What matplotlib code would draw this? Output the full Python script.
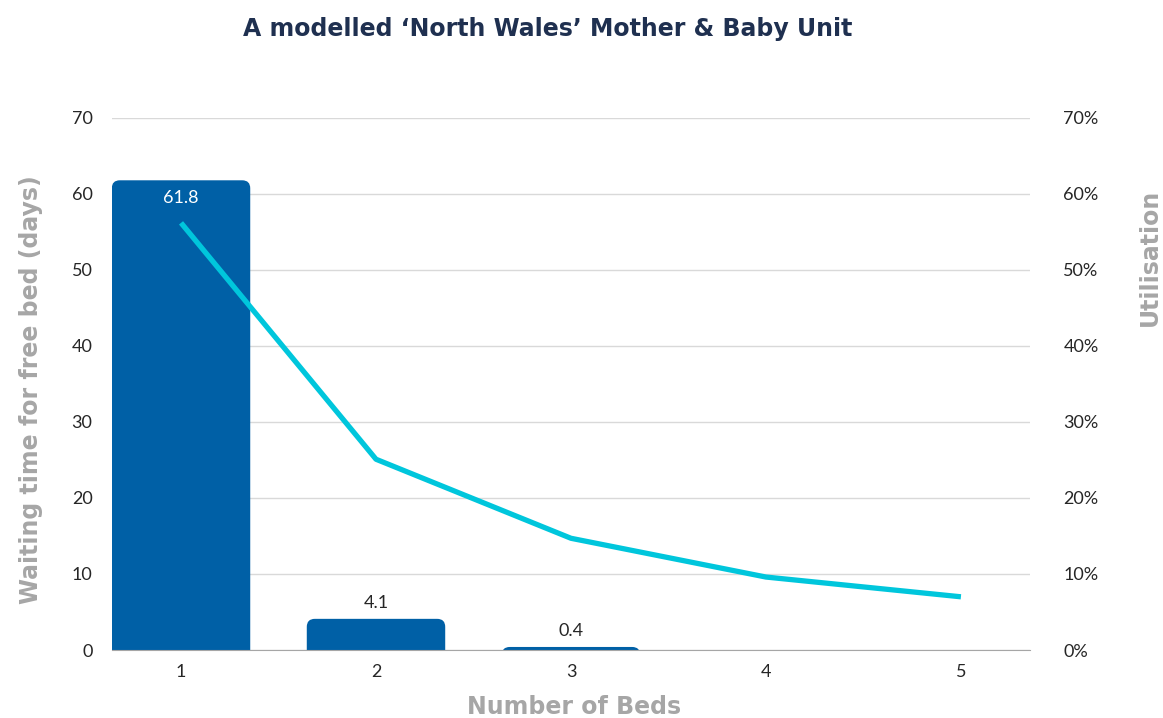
import matplotlib.pyplot as plt
from matplotlib.patches import FancyBboxPatch
from matplotlib.ticker import FuncFormatter

# Data
beds = [1, 2, 3, 4, 5]
waiting_days = [61.8, 4.1, 0.4, 0, 0]
utilisation = [0.562, 0.251, 0.147, 0.096, 0.070]
bar_labels = ["61.8", "4.1", "0.4", "", ""]

BAR_COLOUR = "#0060A6"
LINE_COLOUR = "#00C6DC"
LABEL_GREY = "#A6A6A6"
TEXT_COLOUR = "#262626"
HEAD_FONT = ["DejaVu Sans"]

plt.rcParams["font.family"] = ["Lato", "DejaVu Sans"]

fig = plt.figure(figsize=(11.63, 7.18), dpi=100)
ax = fig.add_axes([0.0963, 0.0947, 0.7893, 0.7410])
ax2 = ax.twinx()

# Bars drawn invisibly, then replaced by round-topped patches of the same size
bars = ax.bar(beds, waiting_days, width=0.71, color=BAR_COLOUR, alpha=0, zorder=2)
x_per_px = 4.708 / 918
y_per_px = 70 / 532
radius_px = 8
for rect in bars:
    h = rect.get_height()
    if h <= 0:
        continue
    ext = 3.0
    patch = FancyBboxPatch(
        (rect.get_x(), -ext),
        rect.get_width(),
        h + ext,
        boxstyle="round,pad=0,rounding_size=%f" % (radius_px * x_per_px),
        mutation_aspect=y_per_px / x_per_px,
        facecolor=BAR_COLOUR,
        edgecolor="none",
        zorder=2,
    )
    ax.add_patch(patch)

# Data labels
for x, v, lab in zip(beds, waiting_days, bar_labels):
    if not lab:
        continue
    if v > 20:
        ax.text(x, v - 1.3, lab, ha="center", va="top", color="white", fontsize=13, zorder=4)
    else:
        ax.text(x, v + 1.0, lab, ha="center", va="bottom", color=TEXT_COLOUR, fontsize=13, zorder=4)

ax.set_xlim(0.646, 5.354)
ax.set_ylim(0, 70)
ax.set_yticks(range(0, 71, 10))
ax.set_xticks(beds)
ax.grid(axis="y", color="#D9D9D9", linewidth=1, zorder=0)
ax.set_axisbelow(True)
for side in ["top", "left", "right"]:
    ax.spines[side].set_visible(False)
ax.spines["bottom"].set_color("#A6A6A6")
ax.spines["bottom"].set_zorder(3)
ax.tick_params(axis="both", length=0, labelsize=13, labelcolor=TEXT_COLOUR)
ax.tick_params(axis="y", pad=14)
ax.tick_params(axis="x", pad=10)

# Utilisation line on the secondary axis
ax2.plot(beds, utilisation, color=LINE_COLOUR, linewidth=3.8, solid_capstyle="butt", zorder=5)
ax2.set_ylim(0, 0.7)
ax2.set_yticks([i / 10 for i in range(8)])
ax2.yaxis.set_major_formatter(FuncFormatter(lambda v, p: "%d%%" % round(v * 100)))
for side in ["top", "left", "right", "bottom"]:
    ax2.spines[side].set_visible(False)
ax2.tick_params(axis="y", length=0, labelsize=13, labelcolor=TEXT_COLOUR, pad=24)

ax.set_zorder(ax2.get_zorder() - 1)
ax.patch.set_visible(False)
ax2.set_zorder(3)

# Axis titles
fig.text(0.027, 0.457, "Waiting time for free bed (days)", rotation=90, ha="center", va="center",
         fontsize=17, fontweight="bold", color=LABEL_GREY, family=HEAD_FONT)
fig.text(0.989, 0.642, "Utilisation", rotation=90, ha="center", va="center",
         fontsize=17, fontweight="bold", color=LABEL_GREY, family=HEAD_FONT)
fig.text(0.494, 0.015, "Number of Beds", ha="center", va="center",
         fontsize=17, fontweight="bold", color=LABEL_GREY, family=HEAD_FONT)

fig.text(0.471, 0.960, "A modelled \u2018North Wales\u2019 Mother & Baby Unit", ha="center", va="center",
         fontsize=17, fontweight="bold", color="#1F3050", family=HEAD_FONT)

fig.savefig("out.png", dpi=100)
